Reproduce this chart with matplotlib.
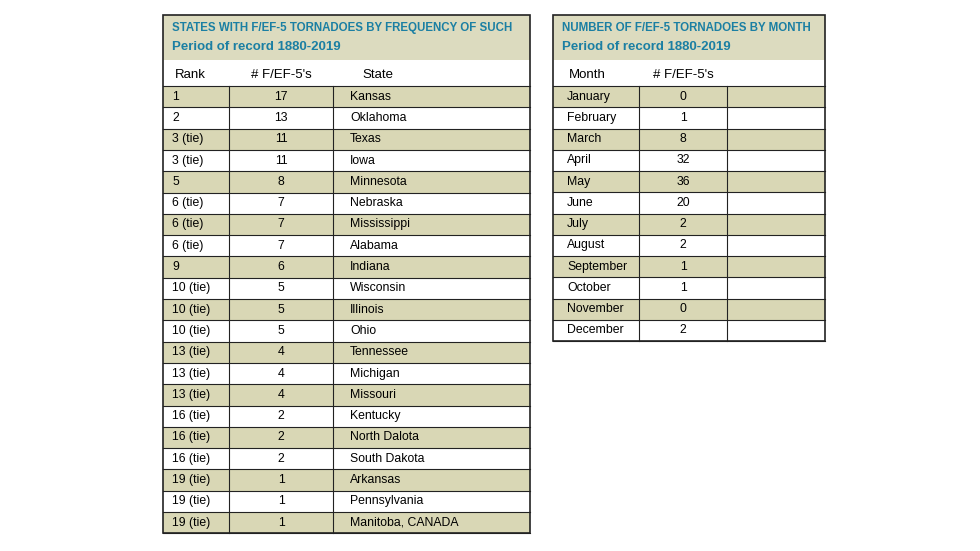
import matplotlib.pyplot as plt
from matplotlib.patches import Rectangle

# Table data
ranks = ['1', '2', '3 (tie)', '3 (tie)', '5', '6 (tie)', '6 (tie)', '6 (tie)', '9',
         '10 (tie)', '10 (tie)', '10 (tie)', '13 (tie)', '13 (tie)', '13 (tie)',
         '16 (tie)', '16 (tie)', '16 (tie)', '19 (tie)', '19 (tie)', '19 (tie)']
state_counts = [17, 13, 11, 11, 8, 7, 7, 7, 6, 5, 5, 5, 4, 4, 4, 2, 2, 2, 1, 1, 1]
states = ['Kansas', 'Oklahoma', 'Texas', 'Iowa', 'Minnesota', 'Nebraska', 'Mississippi',
          'Alabama', 'Indiana', 'Wisconsin', 'Illinois', 'Ohio', 'Tennessee', 'Michigan',
          'Missouri', 'Kentucky', 'North Dalota', 'South Dakota', 'Arkansas',
          'Pennsylvania', 'Manitoba, CANADA']
months = ['January', 'February', 'March', 'April', 'May', 'June', 'July', 'August',
          'September', 'October', 'November', 'December']
month_counts = [0, 1, 8, 32, 36, 20, 2, 2, 1, 1, 0, 2]

HEAD = '#dcdbbf'
SHADE = '#d9d7b5'
TEAL = '#1b7fa3'
FONT = ['Liberation Sans', 'DejaVu Sans']

fig = plt.figure(figsize=(9.8, 5.51), dpi=100)
ax = fig.add_axes([0, 0, 1, 1])
ax.set_xlim(0, 980)
ax.set_ylim(551, 0)
ax.axis('off')


def draw_table(x0, x1, cols, title, tsize, headers, hx, rows, text_x, row_h, top=15):
    body_top = 86
    bottom = body_top + row_h * len(rows)
    ax.add_patch(Rectangle((x0, top), x1 - x0, 45, color=HEAD, lw=0))
    ax.text(x0 + 9, top + 13, title[0], color=TEAL, fontsize=tsize, weight='bold',
            family=FONT, va='center')
    ax.text(x0 + 9, top + 32, title[1], color=TEAL, fontsize=9.5, weight='bold',
            family=FONT, va='center')
    for h, x in zip(headers, hx):
        ax.text(x, 75, h, fontsize=9.5, family=FONT, va='center', ha='center')
    for i, row in enumerate(rows):
        y = body_top + i * row_h
        if i % 2 == 0:
            ax.add_patch(Rectangle((x0, y), x1 - x0, row_h, color=SHADE, lw=0))
        ax.plot([x0, x1], [y, y], color='#222222', lw=0.8)
        for val, (tx, ha) in zip(row, text_x):
            ax.text(tx, y + row_h / 2, str(val), fontsize=8.8, family=FONT,
                    va='center', ha=ha)
    ax.plot([x0, x1], [bottom, bottom], color='#222222', lw=0.8)
    for c in cols:
        ax.plot([c, c], [body_top, bottom], color='#222222', lw=0.8)
    ax.add_patch(Rectangle((x0, top), x1 - x0, bottom - top, fill=False,
                           ec='#222222', lw=1.2))


draw_table(163, 530, [229, 333],
           ['STATES WITH F/EF-5 TORNADOES BY FREQUENCY OF SUCH', 'Period of record 1880-2019'],
           8.3, ['Rank', "# F/EF-5's", 'State'], [190, 281, 378],
           list(zip(ranks, state_counts, states)),
           [(172, 'left'), (281, 'center'), (350, 'left')], 21.3)

draw_table(553, 825, [639, 727],
           ['NUMBER OF F/EF-5 TORNADOES BY MONTH', 'Period of record 1880-2019'],
           8.3, ['Month', "# F/EF-5's"], [587, 683],
           [(m, c, '') for m, c in zip(months, month_counts)],
           [(567, 'left'), (683, 'center'), (740, 'left')], 21.25)

fig.savefig('out.png', dpi=100)
